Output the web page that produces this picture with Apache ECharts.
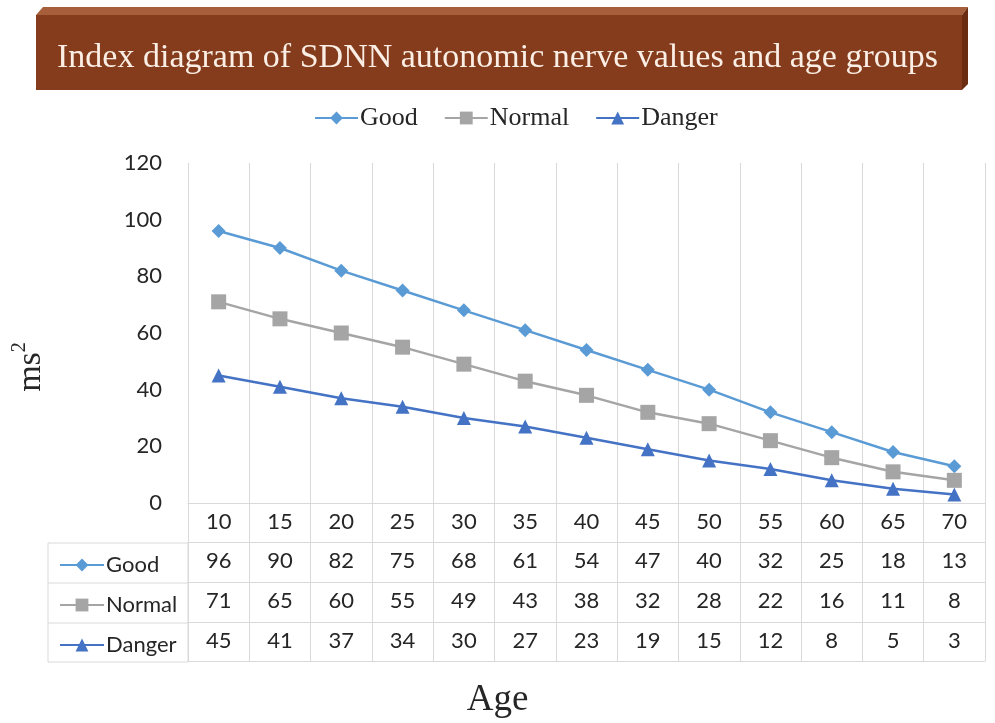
<!DOCTYPE html>
<html>
<head>
<meta charset="utf-8">
<script src="https://cdn.jsdelivr.net/npm/echarts@6/dist/echarts.min.js"></script>
<style>
html,body{margin:0;padding:0;background:#fff;}
#chart{width:995px;height:723px;}
</style>
</head>
<body>
<div id="chart"></div>
<script>
const titleText = 'Index diagram of SDNN autonomic nerve values and age groups';
const ages = ['10','15','20','25','30','35','40','45','50','55','60','65','70'];
const seriesNames = ['Good','Normal','Danger'];
const good = [96,90,82,75,68,61,54,47,40,32,25,18,13];
const normal = [71,65,60,55,49,43,38,32,28,22,16,11,8];
const danger = [45,41,37,34,30,27,23,19,15,12,8,5,3];
const yTicks = {min:0, max:120, interval:20};

const colors = ['#5B9BD5','#A5A5A5','#4472C4'];
const symbols = ['diamond','rect','triangle'];
const symbolSizes = [14,15,14];
const values = [good, normal, danger];

const sans = 'Lato';
const serif = 'Liberation Serif';
const gridLine = '#d9d9d9';
const textCol = '#262626';

const chart = echarts.init(document.getElementById('chart'));

const xAxes = [{
  type:'category', data: ages, gridIndex:0, position:'bottom',
  boundaryGap:true,
  axisLine:{show:true, lineStyle:{color:gridLine, width:1}},
  axisTick:{show:true, length:158, lineStyle:{color:gridLine, width:1}},
  splitLine:{show:true, lineStyle:{color:gridLine, width:1}},
  axisLabel:{color:textCol, fontFamily:sans, fontSize:22, margin:8}
}];
values.forEach((arr, i) => {
  xAxes.push({
    type:'category', data: arr.map(String), gridIndex:0, position:'bottom',
    offset: 39 + 40*i,
    boundaryGap:true,
    axisLine:{show:true, lineStyle:{color:gridLine, width:1}},
    axisTick:{show:false}, splitLine:{show:false},
    axisLabel:{color:textCol, fontFamily:sans, fontSize:22, margin:8}
  });
});
xAxes.push({
  type:'category', data: ages, gridIndex:0, position:'bottom', offset:158,
  axisLine:{show:true, lineStyle:{color:gridLine, width:1}},
  axisTick:{show:false}, splitLine:{show:false}, axisLabel:{show:false}
});

const series = seriesNames.map((n, i) => ({
  name:n, type:'line', xAxisIndex:0, yAxisIndex:0,
  data: values[i],
  symbol: symbols[i], symbolSize: symbolSizes[i],
  lineStyle:{color:colors[i], width:2.5},
  itemStyle:{color:colors[i]},
  emphasis:{disabled:true}
}));

const tableLegends = seriesNames.map((n, i) => ({
  data:[n], left:54, top: 549 + 40*i, orient:'horizontal',
  itemWidth:44, itemHeight:16, itemGap:0,
  textStyle:{color:textCol, fontFamily:sans, fontSize:22, padding:[0,0,0,-3]},
  selectedMode:false
}));

chart.setOption({
  animation:false,
  backgroundColor:'#fff',
  title:[
    {text:titleText, left:'center', top:36,
     textStyle:{color:'#fbeee4', fontFamily:serif, fontSize:34, fontWeight:'normal'}},
    {text:'Age', left:'center', top:677,
     textStyle:{color:textCol, fontFamily:serif, fontSize:37, fontWeight:'normal'}}
  ],
  legend:[{
    data:seriesNames, left:309, top:100,
    itemWidth:43, itemHeight:16, itemGap:26,
    textStyle:{color:textCol, fontFamily:serif, fontSize:26, padding:[0,0,0,-3]},
    selectedMode:false
  }].concat(tableLegends),
  grid:{left:188, right:10, top:163, bottom:220, containLabel:false},
  xAxis:xAxes,
  yAxis:[{
    type:'value', min:yTicks.min, max:yTicks.max, interval:yTicks.interval,
    axisLine:{show:false}, axisTick:{show:false}, splitLine:{show:false},
    axisLabel:{color:textCol, fontFamily:sans, fontSize:22, margin:26}
  }],
  graphic:[
    {type:'polygon', z:-1, shape:{points:[[36,15],[43,7],[968,7],[962,15]]}, style:{fill:'#a65f3a'}},
    {type:'polygon', z:-1, shape:{points:[[962,15],[968,7],[968,84],[962,90]]}, style:{fill:'#6a2d12'}},
    {type:'rect', z:-1, shape:{x:36,y:15,width:926,height:75}, style:{fill:'#843c1d'}},
    {type:'rect', shape:{x:48,y:543,width:140,height:119}, style:{fill:null, stroke:gridLine, lineWidth:1}},
    {type:'line', shape:{x1:48,y1:583,x2:188,y2:583}, style:{stroke:gridLine, lineWidth:1}},
    {type:'line', shape:{x1:48,y1:623,x2:188,y2:623}, style:{stroke:gridLine, lineWidth:1}},
    {type:'text', x:29, y:367, rotation:Math.PI/2,
     style:{text:'{a|ms}{b|2}', align:'center', verticalAlign:'middle',
       rich:{
         a:{fontFamily:serif, fontSize:34, fill:textCol, lineHeight:38, verticalAlign:'bottom'},
         b:{fontFamily:serif, fontSize:20, fill:textCol, lineHeight:38, verticalAlign:'top'}
       }}}
  ],
  series:series
});
</script>
</body>
</html>
